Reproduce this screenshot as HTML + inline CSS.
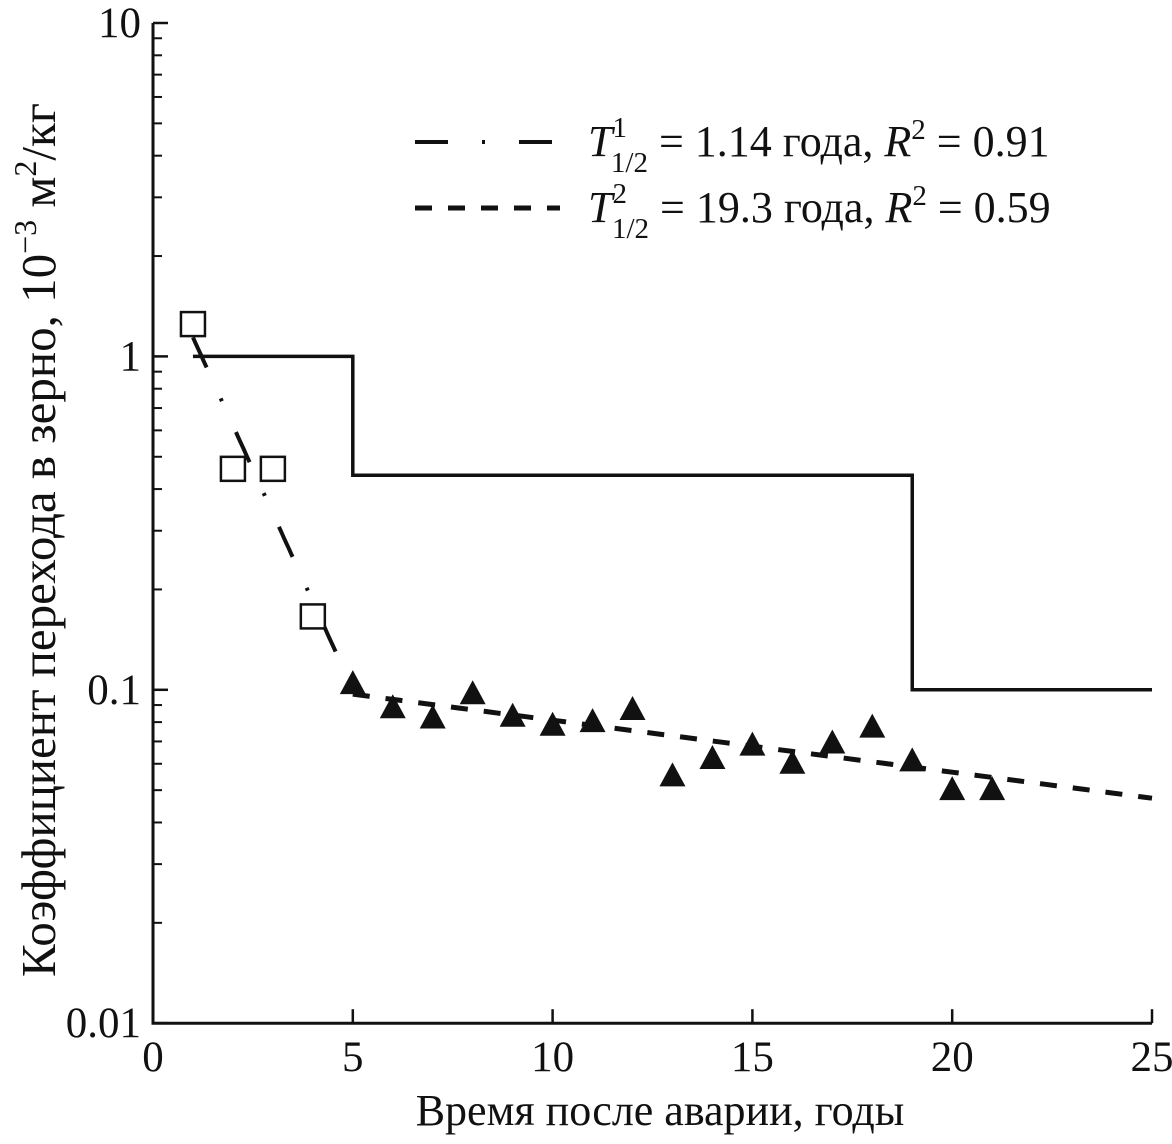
<!DOCTYPE html>
<html><head><meta charset="utf-8"><style>
html,body{margin:0;padding:0;background:#fff;}
svg text{font-family:"Liberation Serif",serif;fill:#111;}
</style></head><body>
<svg id="c" width="1172" height="1139" viewBox="0 0 1172 1139" xmlns="http://www.w3.org/2000/svg">
<g id="axes"></g>
<g id="marks"></g>
<g>
<line x1="415" y1="142" x2="560" y2="142" stroke="#111" stroke-width="4" stroke-dasharray="33,34,3,34"/>
<text x="588" y="156" font-size="44"><tspan font-style="italic">T</tspan><tspan font-size="29" dy="-19">1</tspan><tspan font-size="29" dx="-15" dy="35">1/2</tspan><tspan dy="-16"> = 1.14 года, </tspan><tspan font-style="italic">R</tspan><tspan font-size="29" dy="-17">2</tspan><tspan dy="17"> = 0.91</tspan></text>
<line x1="415" y1="208" x2="560" y2="208" stroke="#111" stroke-width="5" stroke-dasharray="17,16"/>
<text x="588" y="222" font-size="44"><tspan font-style="italic">T</tspan><tspan font-size="29" dy="-19">2</tspan><tspan font-size="29" dx="-15" dy="35">1/2</tspan><tspan dy="-16"> = 19.3 года, </tspan><tspan font-style="italic">R</tspan><tspan font-size="29" dy="-17">2</tspan><tspan dy="17"> = 0.59</tspan></text>
</g>
<text x="660" y="1125" font-size="44" text-anchor="middle">Время после аварии, годы</text>
<text transform="translate(55,540) rotate(-90)" font-size="49" text-anchor="middle">Коэффициент перехода в зерно, 10<tspan font-size="32" dy="-19">−3</tspan><tspan dy="19"> м</tspan><tspan font-size="32" dy="-19">2</tspan><tspan dy="19">/кг</tspan></text>
</svg>
<script>
const xTicks=[0,5,10,15,20,25];
const yTicks=[0.01,0.1,1,10];
const yTickLabels=["0.01","0.1","1","10"];
const squareX=[1,2,3,4];
const squareY=[1.25,0.46,0.46,0.166];
const triX=[5,6,7,8,9,10,11,12,13,14,15,16,17,18,19,20,21];
const triY=[0.104,0.088,0.082,0.097,0.083,0.078,0.08,0.087,0.055,0.062,0.068,0.06,0.069,0.077,0.061,0.05,0.05];
const stepX=[1,5,5,19,19,25];
const stepY=[1,1,0.44,0.44,0.1,0.1];
const fit1=[1.14,1.14,1,5];
const fit2=[19.3,0.097,5,25];
const NS='http://www.w3.org/2000/svg';
const X0=153,X1=1152,Y10=23,DEC=333.4;
function sx(v){return X0+(v-0)/25*(X1-X0);}
function sy(v){return Y10+(1-Math.log10(v))*DEC;}
function mk(t,a,p){const e=document.createElementNS(NS,t);for(const k in a)e.setAttribute(k,a[k]);p.appendChild(e);return e;}
const ax=document.getElementById('axes'),mr=document.getElementById('marks');
const yb=sy(0.01);
let l=mk('path',{d:`M${X0},${sy(10)} V${yb} H${X1}`,fill:'none',stroke:'#111','stroke-width':3},ax);


xTicks.forEach(v=>{
 if(v>0){let t=mk('line',{x1:sx(v),x2:sx(v),y1:yb,y2:yb-14,stroke:'#111','stroke-width':2.5},ax);
 
 }
 let tx=mk('text',{x:sx(v),y:yb+48,'font-size':43,'text-anchor':'middle'},ax);tx.textContent=v;
 
 
});
yTicks.forEach((v,i)=>{
 let t=mk('line',{x1:X0,x2:X0+15,y1:sy(v),y2:sy(v),stroke:'#111','stroke-width':2.5},ax);
 
 
 let tx=mk('text',{x:141,y:sy(v)+14,'font-size':43,'text-anchor':'end'},ax);tx.textContent=yTickLabels[i];
 
 
 if(i<yTicks.length-1){for(let m=2;m<=9;m++){let mt=mk('line',{x1:X0,x2:X0+9,y1:sy(v*m),y2:sy(v*m),stroke:'#111','stroke-width':2},ax);
 
 }}
});
let st=mk('path',{d:stepX.map((x,i)=>(i?'L':'M')+sx(x)+','+sy(stepY[i])).join(' '),fill:'none',stroke:'#111','stroke-width':3.5},mr);


function fitPath(f){const[h,a,s,e]=f;let d='';for(let k=0;k<=60;k++){const t=s+(e-s)*k/60;const y=a*Math.exp(-Math.LN2/h*(t-s));d+=(k?'L':'M')+sx(t).toFixed(1)+','+sy(y).toFixed(1);}return d;}
let f1=mk('path',{d:fitPath(fit1),fill:'none',stroke:'#111','stroke-width':4,'stroke-dasharray':'33,34,3,34'},mr);


let f2=mk('path',{d:fitPath(fit2),fill:'none',stroke:'#111','stroke-width':5,'stroke-dasharray':'17,16'},mr);


squareX.forEach((x,i)=>{let r=mk('rect',{x:sx(x)-12,y:sy(squareY[i])-12,width:24,height:24,fill:'#fff',stroke:'#111','stroke-width':2.5},mr);
 
 });
triX.forEach((x,i)=>{const cx=sx(x),cy=sy(triY[i]);let p=mk('polygon',{points:`${cx},${cy-14} ${cx-13},${cy+10} ${cx+13},${cy+10}`,fill:'#111'},mr);
 
 });
</script>
</body></html>
